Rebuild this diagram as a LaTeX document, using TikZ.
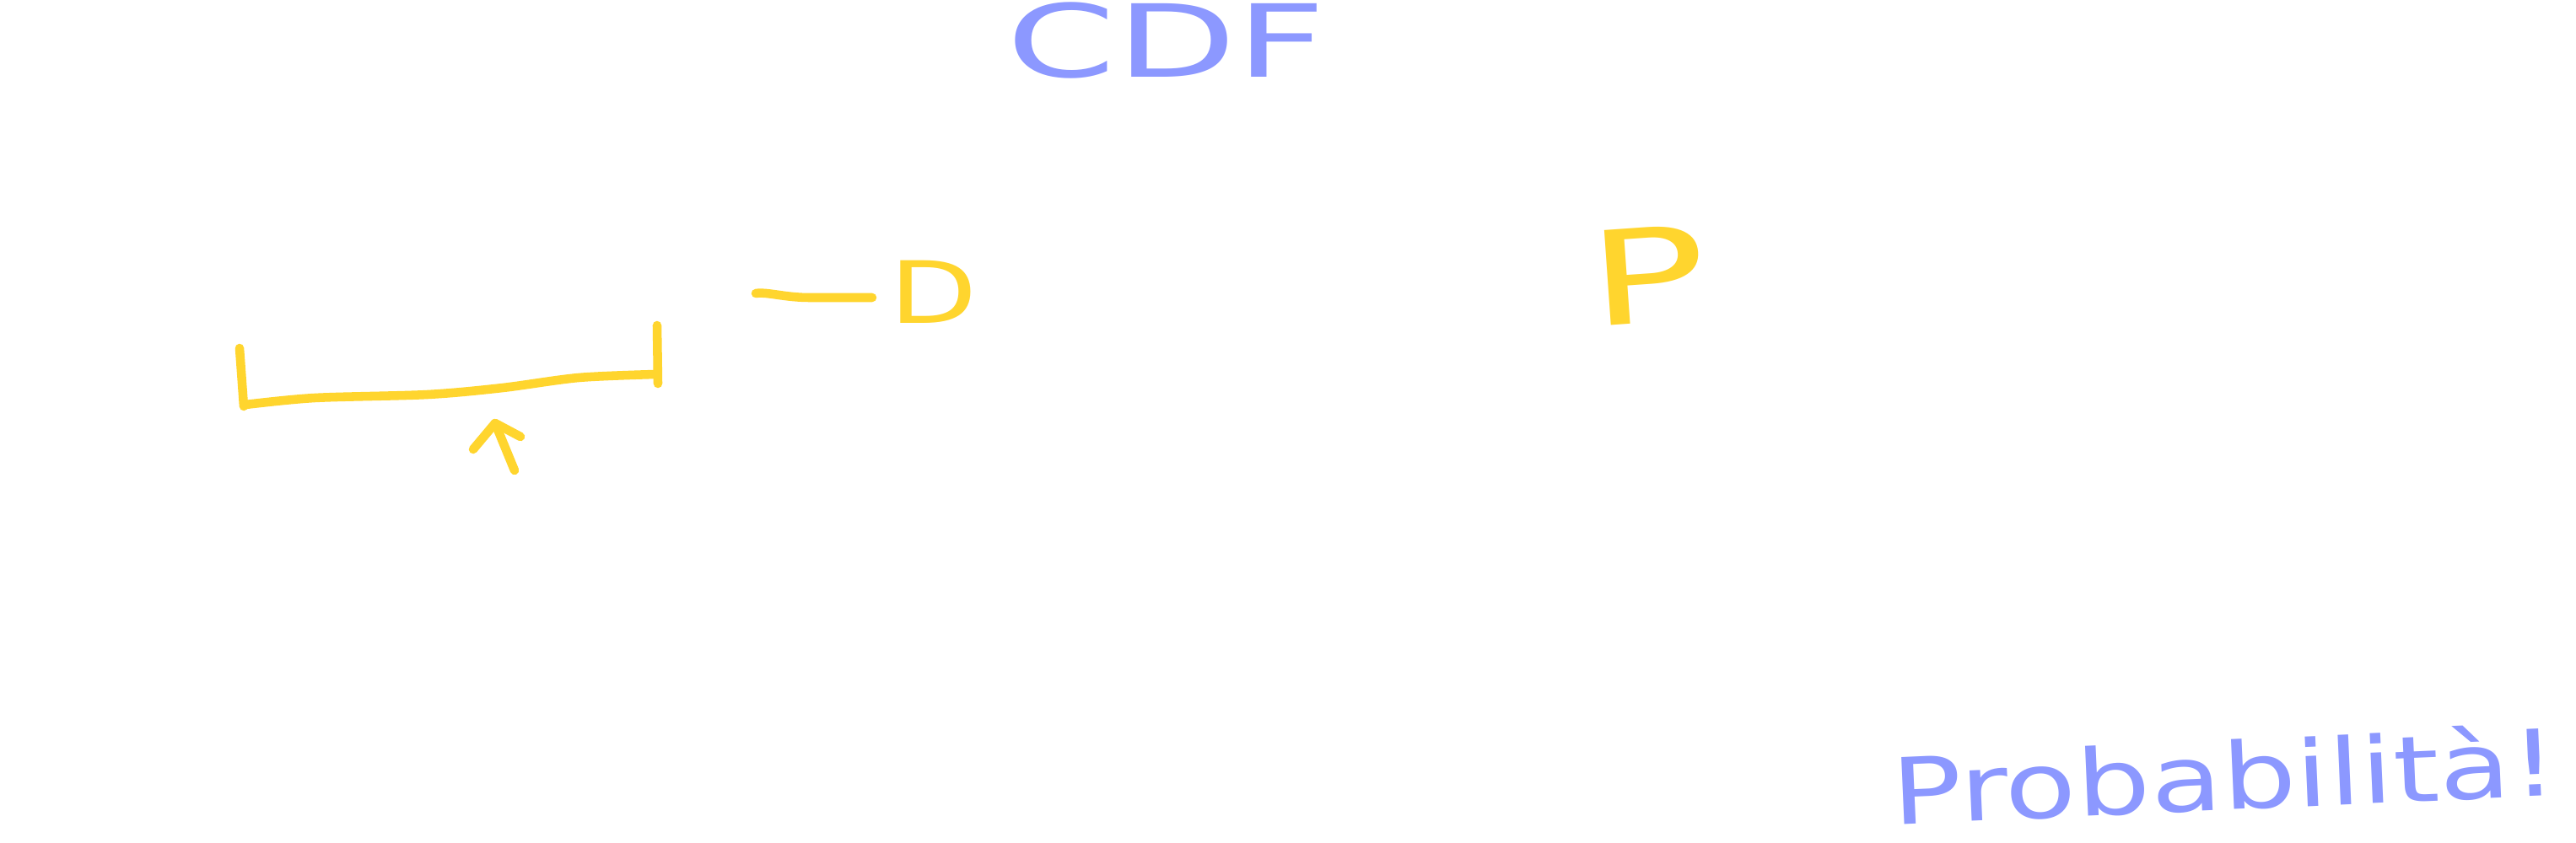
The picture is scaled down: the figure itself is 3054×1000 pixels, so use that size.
\documentclass[tikz,border=0pt]{standalone}
\usepackage{fontspec}
\setmainfont{DejaVu Sans}
\newfontfamily\cdffont[FakeStretch=1.55]{DejaVu Sans}
\newfontfamily\probfont[FakeStretch=1.27]{DejaVu Sans}
\newfontfamily\dfont[FakeStretch=1.33]{DejaVu Sans}
\newfontfamily\pfont[FakeStretch=1.5]{DejaVu Sans}
\definecolor{pen}{HTML}{8C98FF}
\definecolor{hl}{HTML}{FFD52E}
\begin{document}
\begin{tikzpicture}[x=0.01cm,y=-0.01cm,
  yel/.style={draw=hl, line width=3pt, line cap=round, line join=round},
  txt/.style={inner sep=0pt, outer sep=0pt}]
\useasboundingbox (0,0) rectangle (3054,1000);
\fill[white] (0,0) rectangle (3054,1000);
% blue texts
\node[txt, text=pen, font=\cdffont\fontsize{34}{34}\selectfont] (cdf) at (1383,48) {CDF};
\node[txt, text=pen, font=\probfont\fontsize{31}{31}\selectfont, anchor=base west, rotate=2.5] (prob) at (2244,978) {Probabilità!};
% yellow letters
\node[txt, text=hl, font=\dfont\fontsize{29}{29}\selectfont] (dlet) at (1107,346) {D};
\node[txt, text=hl, font=\pfont\fontsize{44}{44}\selectfont, rotate=4] (plet) at (1953,326) {P};
% bracket
\coordinate (bl) at (284,413);
\coordinate (bb) at (289,482);
\coordinate (br) at (779,386);
\coordinate (brb) at (780,455);
\draw[yel] (bl) -- (bb);
\draw[yel] plot[smooth] coordinates {(291,480) (373,472) (507,468) (596,460) (686,448) (777,444)};
\draw[yel] (br) -- (brb);
% arrow
\coordinate (atail) at (610,558);
\coordinate (atip) at (587,502);
\coordinate (barbl) at (561,533);
\coordinate (barbr) at (617,518);
\draw[yel] (atail) -- (atip);
\draw[yel] (barbl) -- (atip) -- (barbr);
% dash before D
\coordinate (d0) at (896,348);
\coordinate (d1) at (1034,353);
\draw[yel] (d0) .. controls (910,346) and (930,353) .. (960,353) -- (d1);
\end{tikzpicture}
\end{document}
